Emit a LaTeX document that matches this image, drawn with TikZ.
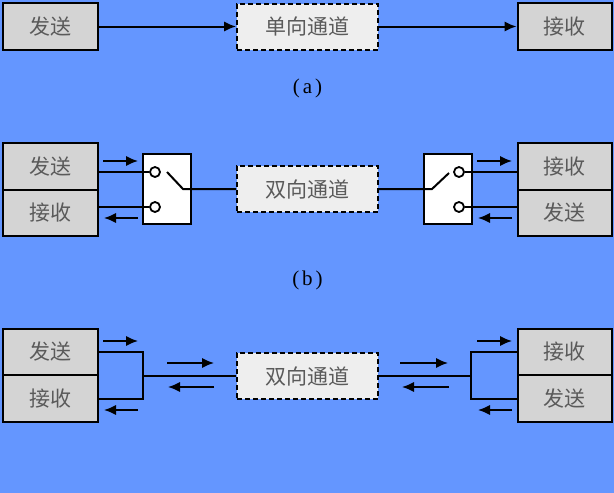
\documentclass[tikz,border=0pt]{standalone}
\usepackage{fontspec}
\setmainfont{Liberation Serif}
\newfontfamily\cjk{Noto Sans CJK SC}
\usetikzlibrary{arrows.meta}
\definecolor{bgblue}{RGB}{100,150,255}
\definecolor{boxgray}{RGB}{212,212,212}
\definecolor{changray}{RGB}{238,238,238}
\definecolor{txtgray}{RGB}{90,90,90}
\tikzset{
  sbox/.style={draw=black, line width=2pt, fill=boxgray, minimum width=95pt, minimum height=46.5pt, inner sep=0pt, font=\cjk\fontsize{21}{24}\selectfont, text=txtgray},
  chan/.style={draw=black, line width=2pt, dash pattern=on 5pt off 3pt, fill=changray, minimum width=141pt, minimum height=46pt, inner sep=0pt, font=\cjk\fontsize{21}{24}\selectfont, text=txtgray},
  swbox/.style={draw=black, line width=1.8pt, fill=white, minimum width=48pt, minimum height=70pt, inner sep=0pt},
  port/.style={circle, draw=black, line width=1.8pt, fill=white, minimum size=10pt, inner sep=0pt},
  wire/.style={line width=2pt},
  arr/.style={line width=2pt, -{Latex[length=12pt,width=10.5pt]}},
  caption/.style={font=\fontsize{21}{24}\selectfont, text=black}
}
\begin{document}
\begin{tikzpicture}[x=1pt,y=-1pt]
\fill[bgblue] (0,0) rectangle (614,493);
\useasboundingbox (0,0) rectangle (614,493);

% ---------- (a) ----------
\node[sbox] (aS) at (50.5,26.5) {发送};
\node[chan] (aC) at (307.5,26.5) {单向通道};
\node[sbox, minimum width=94pt] (aR) at (564.5,26.5) {接收};
\draw[arr] (aS.east) -- (aC.west);
\draw[arr] (aC.east) -- (aR.west);
\node[caption] (capa) at (307.5,88) {(\kern3pt a\kern3pt)};

% ---------- (b) ----------
\node[sbox] (bLS) at (50.5,166.25) {发送};
\node[sbox] (bLR) at (50.5,212.75) {接收};
\node[swbox] (bSW1) at (167,189) {};
\node[port] (bp1) at (155,172) {};
\node[port] (bp2) at (155,207) {};
\node[chan] (bC) at (307.5,189) {双向通道};
\node[swbox] (bSW2) at (448,189) {};
\node[port] (bq1) at (459,172) {};
\node[port] (bq2) at (459,207) {};
\node[sbox, minimum width=94pt] (bRR) at (564.5,166.25) {接收};
\node[sbox, minimum width=94pt] (bRS) at (564.5,212.75) {发送};

\draw[wire] (bp1.west) -- (bp1.west -| bLS.east);
\draw[wire] (bp2.west) -- (bp2.west -| bLR.east);
\coordinate (lev1a) at (167,172);
\coordinate (lev1b) at (183,189);
\draw[wire] (lev1a) -- (lev1b) -- (bC.west);
\draw[wire] (bq1.east) -- (bq1.east -| bRR.west);
\draw[wire] (bq2.east) -- (bq2.east -| bRS.west);
\coordinate (lev2a) at (449,173);
\coordinate (lev2b) at (432,189);
\draw[wire] (bC.east) -- (lev2b) -- (lev2a);

\coordinate (ba1s) at (103,161); \coordinate (ba1e) at (138,161);
\coordinate (ba2s) at (138,218); \coordinate (ba2e) at (104,218);
\coordinate (ba3s) at (477,161); \coordinate (ba3e) at (512,161);
\coordinate (ba4s) at (512,218); \coordinate (ba4e) at (478,218);
\draw[arr] (ba1s) -- (ba1e);
\draw[arr] (ba2s) -- (ba2e);
\draw[arr] (ba3s) -- (ba3e);
\draw[arr] (ba4s) -- (ba4e);
\node[caption] (capb) at (307.5,280) {(\kern3pt b\kern3pt)};

% ---------- (c) ----------
\node[sbox] (cLS) at (50.5,352) {发送};
\node[sbox] (cLR) at (50.5,398.5) {接收};
\node[chan] (cC) at (307.5,376) {双向通道};
\node[sbox, minimum width=94pt] (cRR) at (564.5,352) {接收};
\node[sbox, minimum width=94pt] (cRS) at (564.5,398.5) {发送};

\coordinate (cj1) at (143,376);
\coordinate (cj2) at (471,376);
\draw[wire] (cLS.east) -- (cLS.east -| cj1) -- (cLR.east -| cj1) -- (cLR.east);
\draw[wire] (cj1) -- (cC.west);
\draw[wire] (cRR.west) -- (cRR.west -| cj2) -- (cRS.west -| cj2) -- (cRS.west);
\draw[wire] (cC.east) -- (cj2);

\coordinate (ca1s) at (103,341); \coordinate (ca1e) at (138,341);
\coordinate (ca2s) at (138,410); \coordinate (ca2e) at (104,410);
\coordinate (ca3s) at (477,341); \coordinate (ca3e) at (512,341);
\coordinate (ca4s) at (512,410); \coordinate (ca4e) at (478,410);
\coordinate (ca5s) at (167,363); \coordinate (ca5e) at (214,363);
\coordinate (ca6s) at (214,387); \coordinate (ca6e) at (168,387);
\coordinate (ca7s) at (400,363); \coordinate (ca7e) at (448,363);
\coordinate (ca8s) at (449,387); \coordinate (ca8e) at (402,387);
\draw[arr] (ca1s) -- (ca1e);
\draw[arr] (ca2s) -- (ca2e);
\draw[arr] (ca3s) -- (ca3e);
\draw[arr] (ca4s) -- (ca4e);
\draw[arr] (ca5s) -- (ca5e);
\draw[arr] (ca6s) -- (ca6e);
\draw[arr] (ca7s) -- (ca7e);
\draw[arr] (ca8s) -- (ca8e);
\end{tikzpicture}
\end{document}
